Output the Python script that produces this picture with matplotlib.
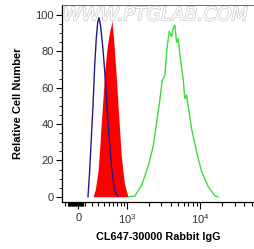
import numpy as np
import matplotlib
matplotlib.use('Agg')
import matplotlib.pyplot as plt
from matplotlib import patheffects

# histogram outlines (intensity, relative count)
blue_x = [137, 162, 187, 213, 240, 266, 290, 312, 340, 380, 416, 450, 481, 520, 554, 600, 633, 716]
blue_y = [0, 14, 32, 50, 72, 87, 96, 98.5, 94, 82, 69, 55, 41, 28, 17, 8, 3, 0]

red_x = [213, 250, 295, 325, 352, 385, 416, 467, 515, 545, 566, 600, 633, 680, 716, 760, 803, 860, 908, 1020]
red_y = [0, 4, 14, 27, 41, 55, 69, 83, 91, 94, 97, 88, 78, 63, 50, 36, 23, 13, 6.5, 0]

green_x = [1031, 1285, 1602, 1981, 2320, 2582, 2870, 3082, 3351, 3534, 3832, 4128, 4339, 4575,
           4824, 5070, 5346, 5924, 6246, 6585, 6922, 7694, 8987, 10500, 12970, 15980, 17540]
green_y = [0, 0.5, 6.5, 17, 28, 41, 54, 64, 67, 80, 91, 88, 92.7, 94.5,
           85, 87, 78, 65, 54, 56, 50, 37.6, 25, 14, 5.5, 0.5, 0]

yticks = [0, 20, 40, 60, 80, 100]
xticks = [0, 1000, 10000]
xticklabels = ['0', '$10^3$', '$10^4$']

C = 457.0


def fwd(x):
    return np.arcsinh(np.asarray(x, dtype=float) / C)


def inv(y):
    return C * np.sinh(np.asarray(y, dtype=float))


plt.rcParams['font.family'] = ['Liberation Sans', 'DejaVu Sans']
plt.rcParams['mathtext.fontset'] = 'custom'
plt.rcParams['mathtext.rm'] = 'Liberation Sans'

fig = plt.figure(figsize=(2.54, 2.49), dpi=100)
ax = fig.add_axes([62 / 254, 1 - 201.5 / 249, 1 - 62 / 254, 196.5 / 249])
ax.set_xscale('function', functions=(fwd, inv))
ax.set_xlim(-245, 53800)
ax.set_ylim(-2.6, 105.5)

ax.fill_between(red_x, red_y, 0, color='#ff0000', linewidth=0, zorder=2)
ax.plot(blue_x, blue_y, color='#1c1c8a', linewidth=1.0, zorder=3)
ax.plot(green_x, green_y, color='#3ddc3d', linewidth=1.0, zorder=3)

ax.set_yticks(yticks)
ax.set_yticks(np.arange(0, 101, 5), minor=True)
ax.set_xticks(xticks)
ax.set_xticklabels(xticklabels)
minor = list(np.arange(-150, 71, 10)) + [-200, -100] + list(range(100, 1000, 100)) + \
    list(range(2000, 10000, 1000)) + list(range(20000, 60000, 10000))
ax.set_xticks(minor, minor=True)

ax.tick_params(axis='both', which='major', labelsize=8, labelcolor='#333333', width=0.8)
ax.tick_params(axis='y', which='major', length=4, pad=2)
ax.tick_params(axis='y', which='minor', length=2, width=0.6)
ax.tick_params(axis='x', which='major', length=5, pad=3)
ax.tick_params(axis='x', which='minor', length=3, width=0.8)

for s in ['left', 'bottom']:
    ax.spines[s].set_linewidth(0.9)
ax.spines['top'].set_linewidth(0.6)
ax.spines['top'].set_color('#555555')
ax.spines['right'].set_visible(False)

ax.set_ylabel('Relative Cell Number', fontsize=8, fontweight='bold', labelpad=9)
ax.set_xlabel('CL647-30000 Rabbit IgG', fontsize=7.8, fontweight='bold', labelpad=4)

fig.text(63 / 254, 1 - 15 / 249, 'WWW.PTGLAB.COM', fontsize=13.6, style='italic',
         color='white', va='center', ha='left', family='DejaVu Sans',
         path_effects=[patheffects.withStroke(linewidth=1.0, foreground='#c8c8c8')], zorder=1)

fig.savefig('out.png', dpi=100)
